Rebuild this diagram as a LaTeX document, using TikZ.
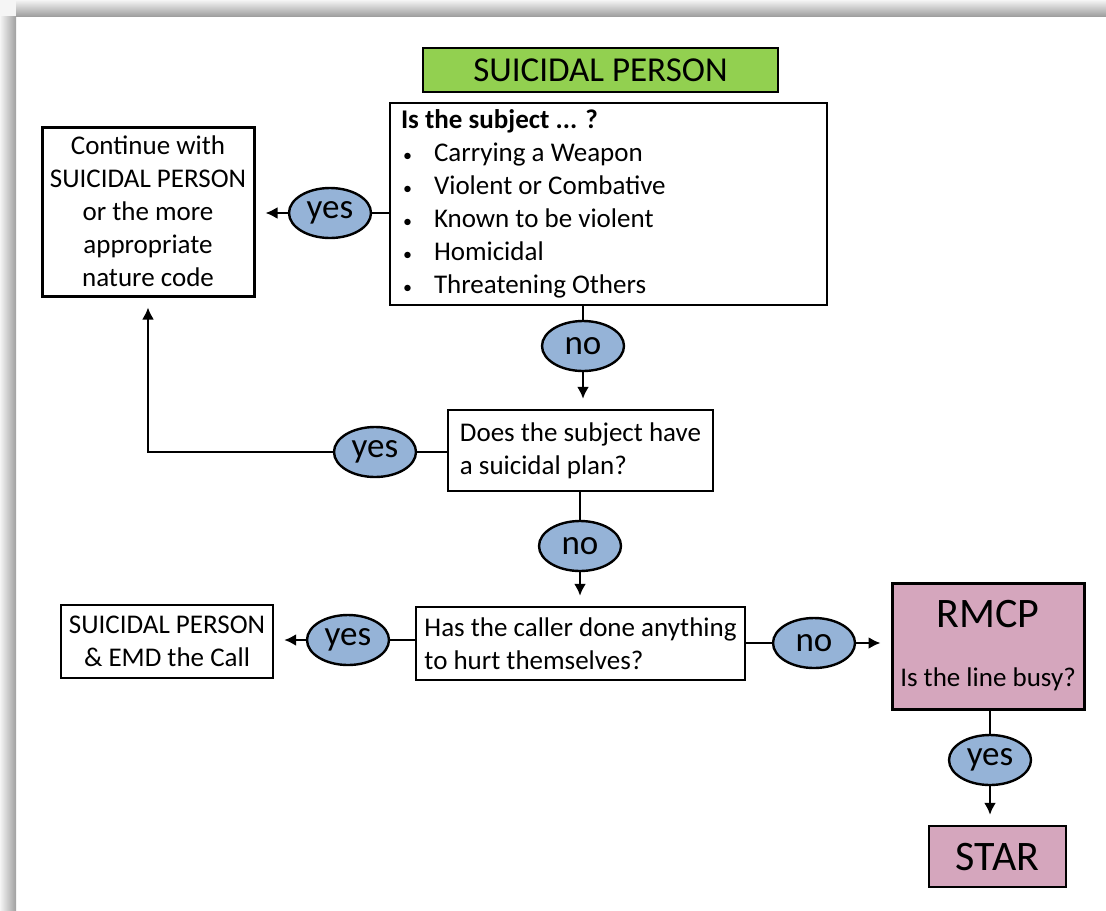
\documentclass[tikz,border=0pt]{standalone}
\usepackage{fontspec}
\setmainfont{Carlito}
\usetikzlibrary{shapes.geometric, arrows.meta, positioning}

\definecolor{titlegreen}{HTML}{92D050}
\definecolor{choiceblue}{HTML}{95B3D7}
\definecolor{rmcppink}{HTML}{D5A6BD}

\newcommand{\bodysize}{\fontsize{13.5}{16.5}\selectfont}
\newcommand{\labelsize}{\fontsize{17.5}{21}\selectfont}
\newcommand{\bigsize}{\fontsize{21}{25}\selectfont}
\newcommand{\itembullet}{\makebox[16.5pt][l]{\hspace*{1pt}\small\textbullet}}

\tikzset{
  box/.style={draw, line width=1.2pt, fill=white, inner sep=3pt, font=\bodysize},
  choice/.style={ellipse, draw, line width=1.2pt, fill=choiceblue, minimum width=41pt, minimum height=25pt, inner sep=0pt, font=\labelsize},
  link/.style={line width=1.1pt},
  arrowlink/.style={line width=1.1pt, -{Latex[length=6pt,width=6pt]}, shorten >=5pt},
}

\begin{document}
\begin{tikzpicture}[x=0.5pt, y=-0.5pt]
\useasboundingbox (0,0) rectangle (1106,910);

% page shadow
\fill[gray!8] (0,0) rectangle (16,16);
\shade[left color=gray!8, right color=gray!75] (0,16) rectangle (16,910);
\shade[top color=gray!8, bottom color=gray!75] (16,0) rectangle (1106,16);

\node[box, fill=titlegreen, minimum width=177.5pt, minimum height=22pt, font=\labelsize] (title) at (600.5,70) {SUICIDAL PERSON};

\node[box, minimum height=101pt, inner xsep=5.5pt, text width=207.5pt, align=flush left] (subjectq) at (608.5,204) {%
  \textbf{Is the subject ... ?}\\
  \itembullet Carrying a Weapon\\
  \itembullet Violent or Combative\\
  \itembullet Known to be violent\\
  \itembullet Homicidal\\
  \itembullet Threatening Others};

\node[box, line width=1.5pt, minimum width=106pt, minimum height=84.5pt, align=center] (cont) at (148,211.5)
  {Continue with\\SUICIDAL PERSON\\or the more\\appropriate\\nature code};

\node[box, minimum width=132.5pt, minimum height=40.5pt, align=left] (planq) at (580.5,450.5)
  {Does the subject have\\a suicidal plan?};

\node[box, minimum width=164.5pt, minimum height=36.5pt, align=left] (hurtq) at (580.5,643.5)
  {Has the caller done anything\\to hurt themselves?};

\node[box, minimum width=106pt, minimum height=36.5pt, align=center] (emd) at (167,641.5)
  {SUICIDAL PERSON\\\& EMD the Call};

\node[box, line width=1.5pt, fill=rmcppink, minimum width=96pt, minimum height=63pt, inner sep=1pt, align=center] (rmcp) at (988,646)
  {{\bigsize RMCP}\\[13pt]Is the line busy?};

\node[box, fill=rmcppink, minimum width=68.5pt, minimum height=30.5pt, font=\bigsize] (star) at (997.5,856.5) {STAR};

% answers
\node[choice] (yesA) at (330,213) {yes};
\node[choice] (noA) at (583,346) {no};
\node[choice] (yesB) at (375,452) {yes};
\node[choice] (noB) at (580,546) {no};
\node[choice] (yesC) at (348,640) {yes};
\node[choice] (noC) at (814,643) {no};
\node[choice] (yesD) at (990,760) {yes};

\draw[link] (subjectq.west |- yesA) -- (yesA.east);
\draw[arrowlink] (yesA.west) -- (cont.east |- yesA);

\draw[link] (subjectq.south -| noA) -- (noA.north);
\draw[arrowlink] (noA.south) -- (planq.north -| noA);

\draw[link] (planq.west |- yesB) -- (yesB.east);
\draw[arrowlink] (yesB.west) -| (cont.south);

\draw[link] (planq.south -| noB) -- (noB.north);
\draw[arrowlink] (noB.south) -- (hurtq.north -| noB);

\draw[link] (hurtq.west |- yesC) -- (yesC.east);
\draw[arrowlink] (yesC.west) -- (emd.east |- yesC);

\draw[link] (hurtq.east |- noC) -- (noC.west);
\draw[arrowlink] (noC.east) -- (rmcp.west |- noC);

\draw[link] (rmcp.south -| yesD) -- (yesD.north);
\draw[arrowlink] (yesD.south) -- (star.north -| yesD);
\end{tikzpicture}
\end{document}
